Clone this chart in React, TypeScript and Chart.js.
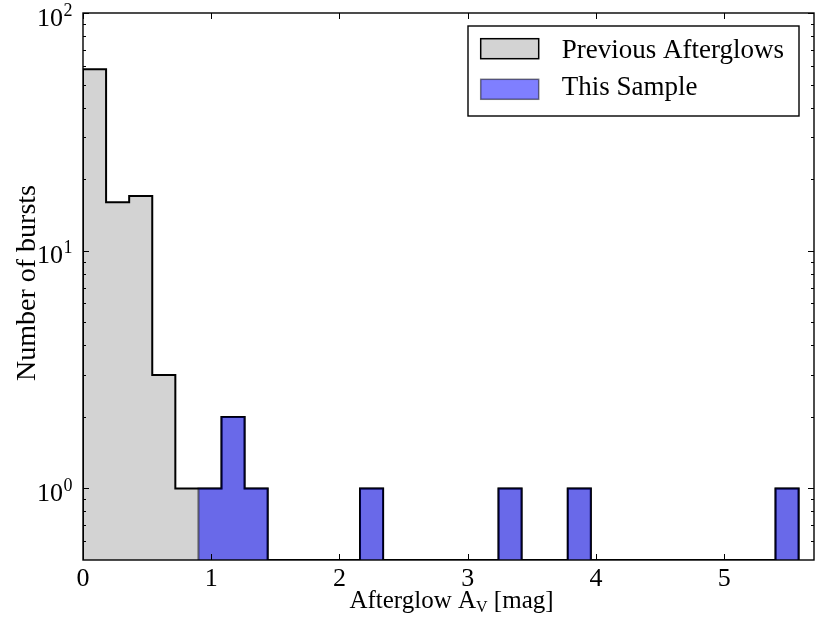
import React, { useEffect, useRef } from 'react';
import { Chart, registerables } from 'chart.js';

Chart.register(...registerables);

// ---- data ----
const BIN_WIDTH = 0.18;
const prevBinStarts = [0, 0.18, 0.36, 0.54, 0.72];
const prevCounts = [58, 16, 17, 3, 1];
const sampleBinStarts = [0.9, 1.08, 1.26, 2.16, 3.24, 3.78, 5.4];
const sampleCounts = [1, 2, 1, 1, 1, 1, 1];

const xTicks = [0, 1, 2, 3, 4, 5];
const yMajorTicks = [1, 10, 100];
const yTickExponents = ['0', '1', '2'];
const yMinorTicks = [0.6, 0.7, 0.8, 0.9, 2, 3, 4, 5, 6, 7, 8, 9, 20, 30, 40, 50, 60, 70, 80, 90];

const X_MIN = 0;
const X_MAX = 5.7;
const Y_MIN = 0.5;
const Y_MAX = 100;

const legendLabels = ['Previous Afterglows', 'This Sample'];
const xTitleMain = 'Afterglow A';
const xTitleSub = 'V';
const xTitleEnd = ' [mag]';
const yTitle = 'Number of bursts';

const GRAY_FILL = '#d3d3d3';
const BLUE_FILL = 'rgba(0,0,255,0.5)';
const BLUE_EDGE = 'rgba(0,0,0,0.5)';
const FONT = '"Liberation Serif", "DejaVu Serif", serif';

type Pt = { x: number; y: number };

function stepPoints(starts: number[], counts: number[], width: number, base: number): Pt[] {
  const pts: Pt[] = [];
  let prevEnd: number | null = null;
  for (let i = 0; i < starts.length; i++) {
    const s = starts[i];
    const c = counts[i];
    if (prevEnd === null || Math.abs(s - prevEnd) > 1e-9) {
      if (prevEnd !== null) pts.push({ x: prevEnd, y: base });
      pts.push({ x: s, y: base });
    }
    pts.push({ x: s, y: c });
    prevEnd = s + width;
  }
  if (prevEnd !== null) pts.push({ x: prevEnd, y: base });
  return pts;
}

// all afterglows (previous + this sample) for the gray histogram
function mergedBins() {
  const pairs = prevBinStarts.map((s, i) => [s, prevCounts[i]]).concat(
    sampleBinStarts.map((s, i) => [s, sampleCounts[i]])
  );
  pairs.sort((a, b) => a[0] - b[0]);
  return { starts: pairs.map((p) => p[0]), counts: pairs.map((p) => p[1]) };
}

const decorPlugin = {
  id: 'decor',
  afterDraw(chart: any) {
    const { ctx, chartArea: a, scales } = chart;
    const xs = scales.x;
    const ys = scales.y;
    ctx.save();
    // frame
    ctx.strokeStyle = '#000';
    ctx.lineWidth = 1.4;
    ctx.strokeRect(a.left, a.top, a.right - a.left, a.bottom - a.top);
    // ticks
    ctx.beginPath();
    ctx.lineWidth = 1;
    const MAJ = 6;
    const MIN = 3;
    xTicks.forEach((v) => {
      const px = Math.round(xs.getPixelForValue(v)) + 0.5;
      ctx.moveTo(px, a.bottom);
      ctx.lineTo(px, a.bottom - MAJ);
      ctx.moveTo(px, a.top);
      ctx.lineTo(px, a.top + MAJ);
    });
    yMajorTicks.forEach((v) => {
      const py = Math.round(ys.getPixelForValue(v)) + 0.5;
      ctx.moveTo(a.left, py);
      ctx.lineTo(a.left + MAJ, py);
      ctx.moveTo(a.right, py);
      ctx.lineTo(a.right - MAJ, py);
    });
    yMinorTicks.forEach((v) => {
      const py = Math.round(ys.getPixelForValue(v)) + 0.5;
      ctx.moveTo(a.left, py);
      ctx.lineTo(a.left + MIN, py);
      ctx.moveTo(a.right, py);
      ctx.lineTo(a.right - MIN, py);
    });
    ctx.stroke();

    // tick labels
    ctx.fillStyle = '#000';
    ctx.textBaseline = 'alphabetic';
    ctx.font = `26px ${FONT}`;
    ctx.textAlign = 'center';
    xTicks.forEach((v) => {
      ctx.fillText(String(v), xs.getPixelForValue(v), a.bottom + 26);
    });
    yMajorTicks.forEach((v, i) => {
      const py = ys.getPixelForValue(v);
      const exp = yTickExponents[i];
      ctx.font = `18px ${FONT}`;
      const supW = ctx.measureText(exp).width;
      const supRight = a.left - 10.5;
      ctx.textAlign = 'right';
      ctx.fillText(exp, supRight, py + 2.5);
      ctx.font = `26px ${FONT}`;
      ctx.fillText('10', supRight - supW - 0.5, py + 12.5);
    });

    // x title with subscript
    ctx.textAlign = 'left';
    ctx.font = `25px ${FONT}`;
    const w1 = ctx.measureText(xTitleMain).width;
    const w3 = ctx.measureText(xTitleEnd).width;
    ctx.font = `16px ${FONT}`;
    const w2 = ctx.measureText(xTitleSub).width;
    const total = w1 + w2 + w3;
    const cx = (a.left + a.right) / 2 + 3;
    let sx = cx - total / 2;
    const by = a.bottom + 48.3;
    ctx.font = `25px ${FONT}`;
    ctx.fillText(xTitleMain, sx, by);
    sx += w1;
    ctx.font = `16px ${FONT}`;
    ctx.fillText(xTitleSub, sx, by + 3.4);
    sx += w2;
    ctx.font = `25px ${FONT}`;
    ctx.fillText(xTitleEnd, sx, by);

    // y title
    ctx.save();
    ctx.translate(35, (a.top + a.bottom) / 2 - 3.5);
    ctx.rotate(-Math.PI / 2);
    ctx.textAlign = 'center';
    ctx.font = `28px ${FONT}`;
    ctx.fillText(yTitle, 0, 0);
    ctx.restore();

    // legend
    const boxW = 331;
    const boxH = 90;
    const bx = a.right - 15 - boxW;
    const byy = a.top + 13;
    ctx.fillStyle = '#fff';
    ctx.fillRect(bx, byy, boxW, boxH);
    ctx.strokeStyle = '#000';
    ctx.lineWidth = 1.4;
    ctx.strokeRect(bx, byy, boxW, boxH);
    const datasets = chart.data.datasets;
    const legendOrder = [1, 0];
    legendOrder.forEach((di, row) => {
      const ds = datasets[di];
      const px = bx + 12.7;
      const py = byy + 12.7 + row * 40.6;
      ctx.fillStyle = '#fff';
      ctx.fillRect(px, py, 58, 20);
      ctx.fillStyle = ds.backgroundColor;
      ctx.fillRect(px, py, 58, 20);
      ctx.strokeStyle = ds.borderColor;
      ctx.lineWidth = 1.5;
      ctx.strokeRect(px, py, 58, 20);
      ctx.fillStyle = '#000';
      ctx.font = `27px ${FONT}`;
      ctx.textAlign = 'left';
      ctx.fillText(legendLabels[row], bx + 93.7, byy + 32 + row * 36.7);
    });
    ctx.restore();
  },
};

export default function App() {
  const canvasRef = useRef<HTMLCanvasElement | null>(null);

  useEffect(() => {
    const canvas = canvasRef.current;
    if (!canvas) return;
    const all = mergedBins();
    const chart = new Chart(canvas, {
      type: 'line',
      data: {
        datasets: [
          {
            label: legendLabels[1],
            data: stepPoints(sampleBinStarts, sampleCounts, BIN_WIDTH, Y_MIN),
            stepped: 'before',
            fill: 'start',
            backgroundColor: BLUE_FILL,
            borderColor: BLUE_EDGE,
            borderWidth: 2,
            pointRadius: 0,
            order: 0,
          },
          {
            label: legendLabels[0],
            data: stepPoints(all.starts, all.counts, BIN_WIDTH, Y_MIN),
            stepped: 'before',
            fill: 'start',
            backgroundColor: GRAY_FILL,
            borderColor: '#000',
            borderWidth: 2,
            pointRadius: 0,
            order: 1,
          },
        ],
      },
      options: {
        responsive: false,
        animation: false,
        devicePixelRatio: 1,
        layout: { padding: { left: 83, right: 16, top: 13, bottom: 63 } },
        scales: {
          x: { type: 'linear', min: X_MIN, max: X_MAX, display: false },
          y: { type: 'logarithmic', min: Y_MIN, max: Y_MAX, display: false },
        },
        plugins: {
          legend: { display: false },
          tooltip: { enabled: false },
        },
      },
      plugins: [decorPlugin],
    });
    return () => chart.destroy();
  }, []);

  return (
    <div style={{ position: 'fixed', left: 0, top: 0, width: 830, height: 623, background: '#fff' }}>
      <canvas ref={canvasRef} width={830} height={623} style={{ display: 'block' }} />
    </div>
  );
}
